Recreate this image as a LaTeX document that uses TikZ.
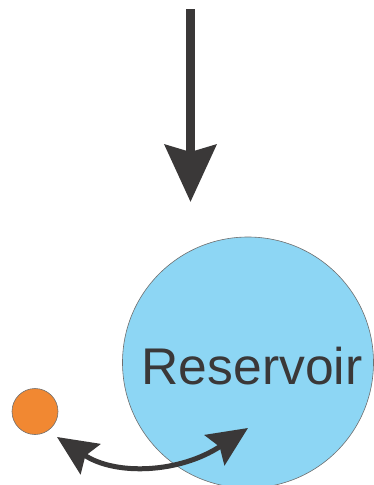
\documentclass[tikz,border=0pt]{standalone}
\usepackage{fontspec}
\setmainfont{Liberation Sans}
\usetikzlibrary{arrows.meta}
\definecolor{resblue}{RGB}{141,214,244}
\definecolor{dotorange}{RGB}{241,136,50}
\definecolor{arrgray}{RGB}{58,56,56}
\definecolor{rimgray}{RGB}{110,110,110}
\tikzset{
  reservoir/.style={circle, fill=resblue, draw=rimgray, line width=0.6pt, minimum size=251pt, inner sep=0pt},
  particle/.style={circle, fill=dotorange, draw=rimgray, line width=0.6pt, minimum size=46pt, inner sep=0pt},
  bigarrow/.style={draw=arrgray, line width=9pt, -{Stealth[length=57pt,width=51pt,inset=7pt]}},
  swaparrow/.style={draw=arrgray, line width=5pt, {Stealth[length=40pt,width=36pt,inset=6pt]}-{Stealth[length=40pt,width=36pt,inset=6pt]}},
  lbl/.style={font=\fontsize{51.6pt}{52pt}\selectfont, text=arrgray, inner sep=0pt}
}
\begin{document}
\begin{tikzpicture}[x=1pt,y=-1pt]
\useasboundingbox (0,0) rectangle (374,485);
\node[reservoir] (res) at (248,362.5) {};
\node[lbl] (reslabel) at (252,366.5) {Reservoir};
\node[particle] (p) at (35,411.5) {};
\coordinate (top) at (190.5,9);
\coordinate (tip) at (190.5,202);
\draw[bigarrow] (top) -- (tip);
\coordinate (a) at (57,437);
\coordinate (b) at (248,428);
\coordinate (c1) at (116,476);
\coordinate (c2) at (180,473);
\draw[swaparrow] (a) .. controls (c1) and (c2) .. (b);
\end{tikzpicture}
\end{document}
